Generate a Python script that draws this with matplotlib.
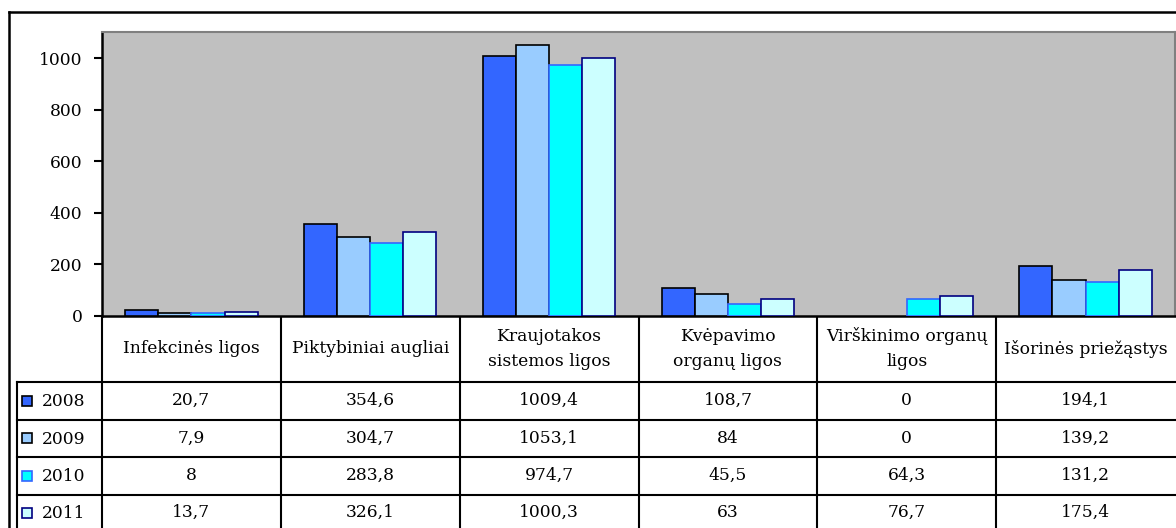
import matplotlib
matplotlib.use("Agg")
import matplotlib.pyplot as plt
from matplotlib.patches import Rectangle

categories = ["Infekcinės ligos", "Piktybiniai augliai", "Kraujotakos\nsistemos ligos",
              "Kvėpavimo\norganų ligos", "Virškinimo organų\nligos", "Išorinės priežąstys"]
years = ["2008", "2009", "2010", "2011"]
v2008 = [20.7, 354.6, 1009.4, 108.7, 0, 194.1]
v2009 = [7.9, 304.7, 1053.1, 84, 0, 139.2]
v2010 = [8, 283.8, 974.7, 45.5, 64.3, 131.2]
v2011 = [13.7, 326.1, 1000.3, 63, 76.7, 175.4]
yticks = [0, 200, 400, 600, 800, 1000]

series = [v2008, v2009, v2010, v2011]
faces = ["#3366FF", "#99CCFF", "#00FFFF", "#CCFFFF"]
edges = ["#000000", "#000000", "#3366FF", "#000080"]

W, H = 1176, 528
plt.rcParams['font.family'] = ['DejaVu Serif']
FS = 12.3

fig = plt.figure(figsize=(W / 100, H / 100), dpi=100)

# overlay in pixel coords for table/frame
ov = fig.add_axes([0, 0, 1, 1])
ov.set_xlim(0, W)
ov.set_ylim(H, 0)
ov.axis('off')

x0, x1 = 102, 1175
ytop, yzero = 31.7, 315.5
ax = fig.add_axes([x0 / W, (H - yzero) / H, (x1 - x0) / W, (yzero - ytop) / H])
ax.set_facecolor("#C0C0C0")

n = len(categories)
bw = 0.185
for k, (vals, fc, ec) in enumerate(zip(series, faces, edges)):
    xs = [i + 0.5 + (k - 1.5) * bw for i in range(n)]
    lws = [1.2 if v > 0 else 0 for v in vals]
    ax.bar(xs, vals, width=bw, color=fc, edgecolor=ec, linewidth=lws, zorder=3)

ax.set_xlim(0, n)
ax.set_ylim(0, 1104)
ax.set_yticks(yticks)
ax.set_yticklabels([str(t) for t in yticks], fontsize=FS)
ax.set_xticks([])
ax.tick_params(axis='y', direction='out', length=6, width=1.5, pad=8)
for s in ['top', 'right']:
    ax.spines[s].set_color("#808080")
    ax.spines[s].set_linewidth(1.5)
ax.spines['left'].set_color('black')
ax.spines['left'].set_linewidth(1.8)
ax.spines['bottom'].set_color('black')
ax.spines['bottom'].set_linewidth(1.8)

# outer frame
ov.plot([9, W], [12, 12], color='black', lw=1.8)
ov.plot([9, 9], [12, H], color='black', lw=1.8)

# table grid
col_x = [102 + (x1 - x0) * i / n for i in range(n + 1)]
row_y = [315.5, 382, 419.5, 457, 494.5, 532]
lc = 'black'
lw = 1.5
ov.plot([17, x1], [row_y[1], row_y[1]], color=lc, lw=lw)
for yy in row_y[2:5]:
    ov.plot([17, x1], [yy, yy], color=lc, lw=lw)
for xx in col_x[:-1]:
    ov.plot([xx, xx], [row_y[0], H], color=lc, lw=lw)
ov.plot([17, 17], [row_y[1], H], color=lc, lw=lw)

# header labels
for i, c in enumerate(categories):
    cx = (col_x[i] + col_x[i + 1]) / 2
    ov.text(cx, (row_y[0] + row_y[1]) / 2, c, ha='center', va='center',
            fontsize=FS, linespacing=1.6)

# rows
for r, (yr, vals, fc, ec) in enumerate(zip(years, series, faces, edges)):
    cy = (row_y[r + 1] + row_y[r + 2]) / 2 if r < 3 else (row_y[4] + 531) / 2
    ov.add_patch(Rectangle((22, cy - 5), 10, 10, facecolor=fc, edgecolor=ec, lw=1.2))
    ov.text(42, cy + 1, yr, ha='left', va='center', fontsize=FS)
    for i, v in enumerate(vals):
        cx = (col_x[i] + col_x[i + 1]) / 2
        ov.text(cx, cy, f"{v:g}".replace('.', ','), ha='center', va='center', fontsize=FS)

fig.savefig("out.png", dpi=100)
